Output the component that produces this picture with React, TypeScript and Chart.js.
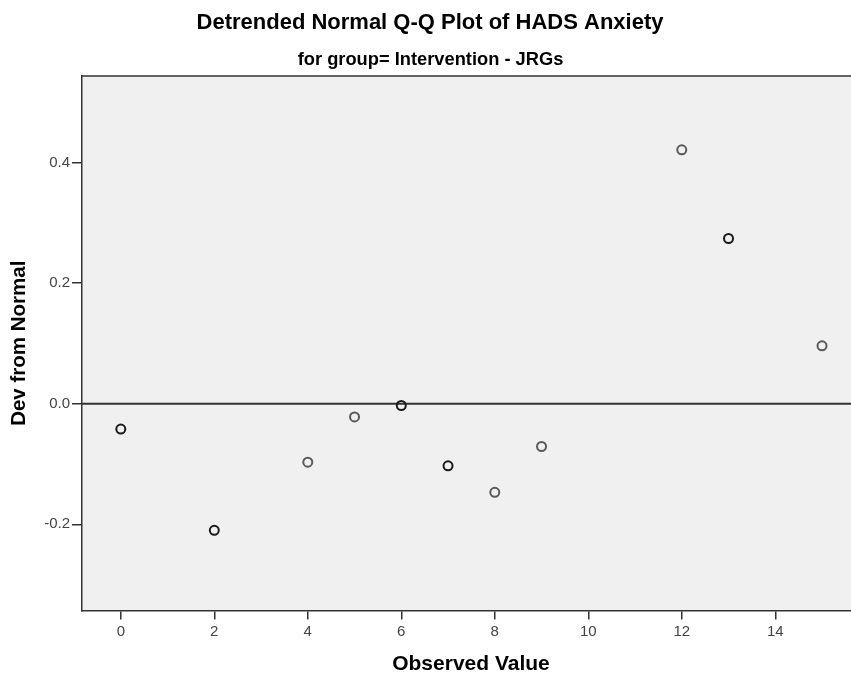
import React, { useEffect, useRef } from "react";
import { Chart, registerables } from "chart.js";

Chart.register(...registerables);

const chartTitle = "Detrended Normal Q-Q Plot of HADS Anxiety";
const chartSubtitle = "for group= Intervention - JRGs";
const xAxisTitle = "Observed Value";
const yAxisTitle = "Dev from Normal";

// observed values and detrended deviations
const observedValues = [0, 2, 4, 5, 6, 7, 8, 9, 12, 13, 15];
const devFromNormal = [-0.042, -0.21, -0.097, -0.022, -0.003, -0.103, -0.147, -0.071, 0.421, 0.274, 0.096];
// number of cases at each observed value (overlapping markers look darker)
const caseCounts = [2, 2, 1, 1, 2, 2, 1, 1, 1, 2, 1];

const xTicks = [0, 2, 4, 6, 8, 10, 12, 14];
const yTicks = [-0.2, 0.0, 0.2, 0.4];
const xRange = [-0.83, 15.62];
const yRange = [-0.343, 0.5435];

const FONT = "'Liberation Sans', Arial, Helvetica, sans-serif";

export default function App() {
  const ref = useRef<HTMLCanvasElement | null>(null);

  useEffect(() => {
    document.body.style.margin = "0";
    const canvas = ref.current;
    if (!canvas) return;

    const decor = {
      id: "decor",
      beforeDraw(chart: any) {
        const { ctx, chartArea } = chart;
        ctx.save();
        ctx.fillStyle = "#ffffff";
        ctx.fillRect(0, 0, chart.width, chart.height);
        ctx.fillStyle = "#f0f0f0";
        ctx.fillRect(chartArea.left, chartArea.top, chartArea.right - chartArea.left, chartArea.bottom - chartArea.top);
        ctx.strokeStyle = "#333333";
        ctx.lineWidth = 1.5;
        ctx.beginPath();
        ctx.moveTo(chartArea.left, chartArea.top);
        ctx.lineTo(chartArea.right, chartArea.top);
        ctx.stroke();
        // titles
        ctx.fillStyle = "#000000";
        ctx.textAlign = "center";
        ctx.textBaseline = "alphabetic";
        ctx.font = `bold 22px ${FONT}`;
        ctx.fillText(chartTitle, 430, 28.5);
        ctx.font = `bold 18.3px ${FONT}`;
        ctx.fillText(chartSubtitle, 430.5, 65);
        // x-axis title (the plot box in the original runs past the right edge)
        ctx.textBaseline = "middle";
        ctx.font = `bold 21px ${FONT}`;
        ctx.fillText(xAxisTitle, 471, 664);
        ctx.restore();
      },
      beforeDatasetsDraw(chart: any) {
        const { ctx, chartArea, scales } = chart;
        const y0 = scales.y.getPixelForValue(0);
        ctx.save();
        ctx.strokeStyle = "#333333";
        ctx.lineWidth = 2;
        ctx.beginPath();
        ctx.moveTo(chartArea.left, y0);
        ctx.lineTo(chartArea.right, y0);
        ctx.stroke();
        ctx.restore();
      },
    };

    const chart = new Chart(canvas, {
      type: "scatter",
      data: {
        datasets: [
          {
            label: yAxisTitle,
            data: observedValues.map((x, i) => ({ x, y: devFromNormal[i] })),
            pointRadius: 4.5,
            pointHoverRadius: 4.5,
            pointBorderWidth: 2,
            pointBackgroundColor: "rgba(0,0,0,0)",
            pointBorderColor: caseCounts.map((c) => (c > 1 ? "#1a1a1a" : "#5a5a5a")),
          },
        ],
      },
      options: {
        responsive: false,
        animation: false,
        layout: { autoPadding: false, padding: { top: 76, left: 0, right: 0, bottom: 0 } },
        plugins: {
          legend: { display: false },
          tooltip: { enabled: false },
          title: { display: false },
        },
        scales: {
          x: {
            type: "linear",
            min: xRange[0],
            max: xRange[1],
            afterFit: (s: any) => {
              s.height = 66.5;
              s.paddingLeft = 0;
              s.paddingRight = 0;
            },
            afterBuildTicks: (s: any) => {
              s.ticks = xTicks.map((v) => ({ value: v }));
            },
            grid: { drawOnChartArea: false, drawTicks: true, tickLength: 9, color: "#333333", lineWidth: 1.5 },
            border: { display: true, color: "#333333", width: 1.5 },
            ticks: {
              color: "#444444",
              font: { family: FONT, size: 15 },
              padding: 3,
              maxRotation: 0,
              autoSkip: false,
              callback: (v: any) => String(v),
            },
            title: { display: false, text: xAxisTitle },
          },
          y: {
            type: "linear",
            min: yRange[0],
            max: yRange[1],
            afterFit: (s: any) => {
              s.width = 82;
              s.paddingTop = 0;
              s.paddingBottom = 0;
            },
            afterBuildTicks: (s: any) => {
              s.ticks = yTicks.map((v) => ({ value: v }));
            },
            grid: { drawOnChartArea: false, drawTicks: true, tickLength: 10, color: "#333333", lineWidth: 1.5 },
            border: { display: true, color: "#333333", width: 1.5 },
            ticks: {
              color: "#444444",
              font: { family: FONT, size: 15 },
              padding: 2,
              autoSkip: false,
              callback: (v: any) => Number(v).toFixed(1),
            },
            title: {
              display: true,
              text: yAxisTitle,
              color: "#000000",
              font: { family: FONT, size: 20.5, weight: "bold", lineHeight: 1.2 },
              padding: { top: 7.5, bottom: 0 },
            },
          },
        },
      },
      plugins: [decor],
    });

    return () => chart.destroy();
  }, []);

  return (
    <div style={{ position: "absolute", left: 0, top: 0, width: 851, height: 677 }}>
      <canvas ref={ref} width={851} height={677} style={{ width: 851, height: 677, display: "block" }} />
    </div>
  );
}
